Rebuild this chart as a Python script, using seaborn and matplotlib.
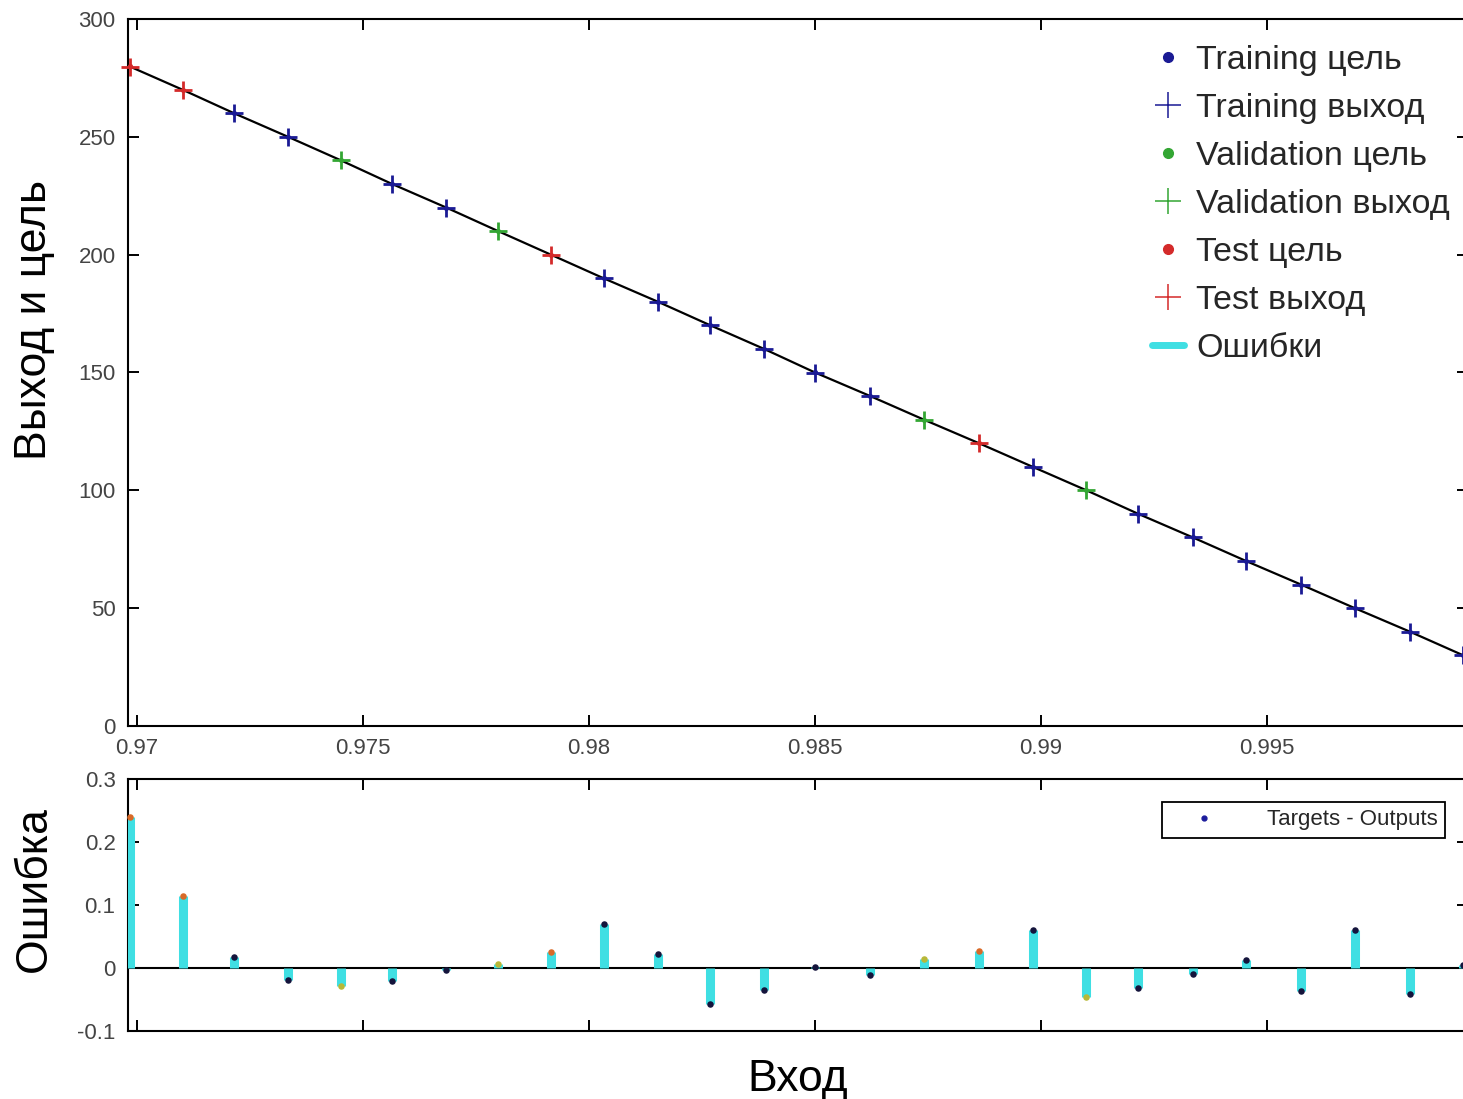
import numpy as np
import pandas as pd
import matplotlib
matplotlib.use("Agg")
import matplotlib.pyplot as plt
from matplotlib.lines import Line2D
import seaborn as sns

# Inputs, targets, errors (targets - outputs) and the data split of each sample
inputs = [0.96985, 0.97102, 0.97215, 0.97334, 0.97451, 0.97564, 0.97684, 0.97799,
          0.97916, 0.98033, 0.98153, 0.98268, 0.98387, 0.98500, 0.98622, 0.98741,
          0.98863, 0.98982, 0.99100, 0.99215, 0.99336, 0.99454, 0.99575, 0.99695,
          0.99816, 0.99934]
targets = [280, 270, 260, 250, 240, 230, 220, 210, 200, 190, 180, 170, 160, 150,
           140, 130, 120, 110, 100, 90, 80, 70, 60, 50, 40, 30]
errors = [0.240, 0.115, 0.018, -0.019, -0.029, -0.021, -0.003, 0.006, 0.026, 0.070,
          0.022, -0.057, -0.035, 0.002, -0.011, 0.014, 0.027, 0.061, -0.046, -0.032,
          -0.010, 0.013, -0.037, 0.061, -0.041, 0.004]
split = ["test", "test", "train", "train", "val", "train", "train", "val", "test",
         "train", "train", "train", "train", "train", "train", "val", "test", "train",
         "val", "train", "train", "train", "train", "train", "train", "train"]

x_ticks = [0.97, 0.975, 0.98, 0.985, 0.99, 0.995]
x_tick_labels = ["0.97", "0.975", "0.98", "0.985", "0.99", "0.995"]
y_ticks_top = [0, 50, 100, 150, 200, 250, 300]
y_ticks_err = [-0.1, 0, 0.1, 0.2, 0.3]
y_tick_labels_err = ["-0.1", "0", "0.1", "0.2", "0.3"]

df = pd.DataFrame({"input": inputs, "target": targets, "error": errors, "split": split})
df["output"] = df["target"] - df["error"]

sns.set_theme(style="ticks")
plt.rcParams["font.family"] = ["Liberation Sans", "DejaVu Sans"]

out_colors = {"train": "#1a1a94", "val": "#33a633", "test": "#d42a2a"}
dot_colors = {"train": "#14143c", "val": "#b8b838", "test": "#d86a28"}
err_color = "#3fdfe3"
tick_color = "#444444"

W, H = 1463, 1099
fig = plt.figure(figsize=(W / 100, H / 100), dpi=100)
left_px, right_px = 128, 1468
ax = fig.add_axes([left_px / W, 1 - 726 / H, (right_px - left_px) / W, (726 - 19) / H])
ax2 = fig.add_axes([left_px / W, 1 - 1031 / H, (right_px - left_px) / W, (1031 - 779) / H])

xlim = (0.969801, 0.999447)

# --- fit panel ---
sns.lineplot(data=df, x="input", y="output", color="black", linewidth=1.6,
             ax=ax, zorder=2, legend=False)
for key in ["train", "val", "test"]:
    sub = df[df["split"] == key]
    sns.scatterplot(x=sub["input"], y=sub["target"], color=out_colors[key], marker="o",
                    s=14, linewidth=0, ax=ax, zorder=3, clip_on=False, legend=False)
    sns.scatterplot(x=sub["input"], y=sub["output"], color=out_colors[key], marker="+",
                    s=160, linewidth=2.0, ax=ax, zorder=4, clip_on=False, legend=False)

ax.set_xlim(*xlim)
ax.set_ylim(0, 300)
ax.set_xticks(x_ticks)
ax.set_xticklabels(x_tick_labels)
ax.set_yticks(y_ticks_top)
ax.set_xlabel("")
ax.set_ylabel("Выход и цель", fontsize=32)

handles = [
    Line2D([], [], ls="none", marker="o", color=out_colors["train"], markersize=7),
    Line2D([], [], ls="none", marker="+", color=out_colors["train"], markersize=19, markeredgewidth=1.1),
    Line2D([], [], ls="none", marker="o", color=out_colors["val"], markersize=7),
    Line2D([], [], ls="none", marker="+", color=out_colors["val"], markersize=19, markeredgewidth=1.1),
    Line2D([], [], ls="none", marker="o", color=out_colors["test"], markersize=7),
    Line2D([], [], ls="none", marker="+", color=out_colors["test"], markersize=19, markeredgewidth=1.1),
    Line2D([], [], color=err_color, linewidth=5),
]
labels = ["Training цель", "Training выход", "Validation цель", "Validation выход",
          "Test цель", "Test выход", "Ошибки"]
ax.legend(handles, labels, loc="upper right", bbox_to_anchor=(0.9866, 0.963),
          frameon=False, fontsize=24.5, handlelength=0.95, handletextpad=0.35,
          labelspacing=0.5, borderaxespad=0, borderpad=0)

# --- error panel ---
ax2.axhline(0, color="black", linewidth=1.5, zorder=2)
ax2.vlines(df["input"], 0, df["error"], color=err_color, linewidth=6.5, zorder=3)
for key in ["train", "val", "test"]:
    sub = df[df["split"] == key]
    sns.scatterplot(x=sub["input"], y=sub["error"], color=dot_colors[key], marker="o",
                    s=22, linewidth=0, ax=ax2, zorder=4, clip_on=False, legend=False)
ax2.set_xlim(*xlim)
ax2.set_ylim(-0.1, 0.3)
ax2.set_xticks(x_ticks)
ax2.set_xticklabels([])
ax2.set_yticks(y_ticks_err)
ax2.set_yticklabels(y_tick_labels_err)
ax2.set_xlabel("Вход", fontsize=32)
ax2.set_ylabel("Ошибка", fontsize=32)

err_handle = Line2D([], [], ls="none", marker="o", color="#1c1c9c", markersize=3.5)
leg2 = ax2.legend([err_handle], ["Targets - Outputs"], loc="upper right",
                  bbox_to_anchor=(0.9828, 0.9087), borderaxespad=0, fontsize=16,
                  frameon=True, fancybox=False, framealpha=1, edgecolor="black",
                  handlelength=3.1, handletextpad=1.3, borderpad=0.33)
leg2.get_frame().set_linewidth(1.3)

for a in (ax, ax2):
    for s in a.spines.values():
        s.set_visible(True)
        s.set_color("black")
        s.set_linewidth(1.5)
    a.tick_params(direction="in", length=8, width=1.4, top=True, right=True,
                  labelsize=16, labelcolor=tick_color, color="black", pad=9)
    a.yaxis.label.set_color("black")
    a.xaxis.label.set_color("black")

ax.yaxis.set_label_coords(-0.0545, 0.574)
ax2.yaxis.set_label_coords(-0.0545, 0.563)
ax2.xaxis.set_label_coords(0.5, -0.113)

fig.savefig("out.png", dpi=100, facecolor="white")
